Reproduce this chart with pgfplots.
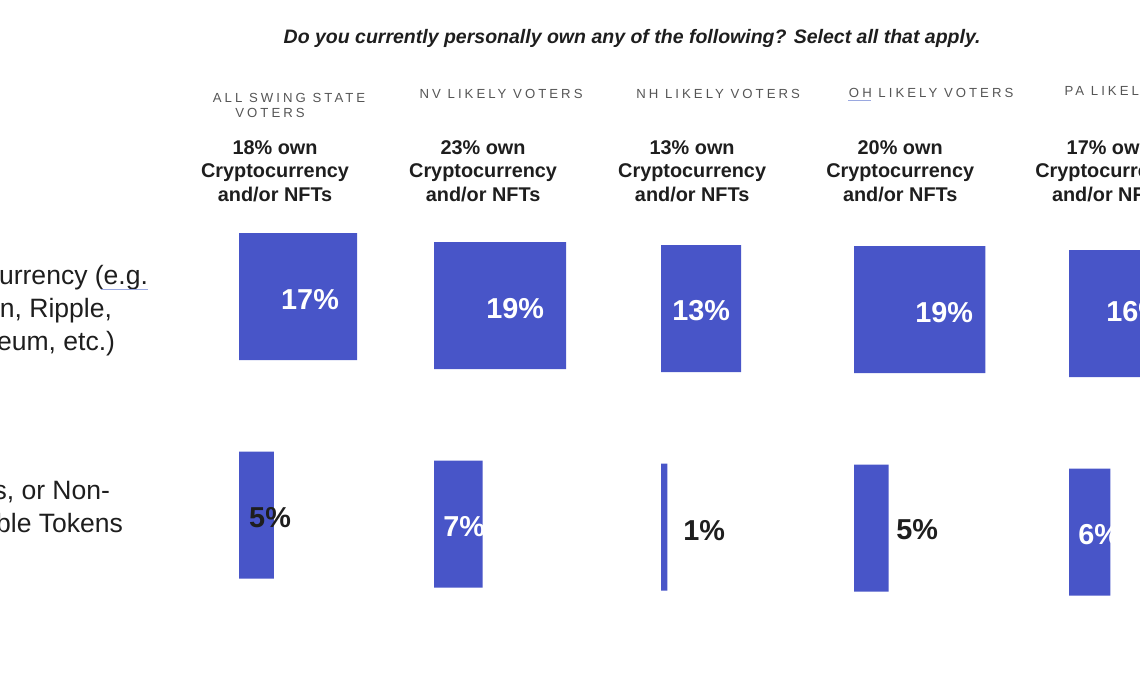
\documentclass[border=0pt]{standalone}
\usepackage{pgfplots}
\pgfplotsset{compat=1.18}
\usepackage{fontspec}
\setmainfont{Liberation Sans}
\newfontfamily\capsfont{Liberation Sans}[LetterSpace=23]

\definecolor{barblue}{HTML}{4855C8}
\definecolor{ink}{HTML}{1E1E1E}
\definecolor{capgray}{HTML}{555555}
\definecolor{squiggle}{HTML}{9AA8E0}

% one hidden axis per column, y in pixels (top = 0), x in percent
\pgfplotsset{colax/.style={
    hide axis, xmin=0, xmax=20, ymin=0, ymax=694, y dir=reverse,
    y=0.02cm, anchor=north west, clip=false}}

% #1 left edge px, #2 downward shift px, #3 cm per percent, #4 crypto, #5 NFTs
\newcommand{\statecol}[5]{%
  \begin{axis}[colax, at={(#1*0.02cm,-#2*0.02cm)}, x=#3cm]
    \addplot[xbar, fill=barblue, draw=none, bar width=2.54cm]
      coordinates {(#4,296.5) (#5,515)};
  \end{axis}}

\newcommand{\hdr}{\capsfont\fontsize{7.5}{9}\selectfont\color{capgray}}
\newcommand{\own}{\bfseries\fontsize{11.3}{13.3}\selectfont\color{ink}}
\newcommand{\val}{\bfseries\fontsize{16.4}{18}\selectfont}
\newcommand{\rowlab}{\fontsize{15.1}{18}\selectfont\color{ink}}

\begin{document}
\begin{tikzpicture}
\useasboundingbox (0,0) rectangle (22.8cm,-13.88cm);
\clip (0,0) rectangle (22.8cm,-13.88cm);

% All swing, NV, NH, OH, PA
\statecol{239}{0}{0.139}{17}{5}
\statecol{434}{9}{0.139}{19}{7}
\statecol{661}{12}{0.123}{13}{1}
\statecol{854}{13}{0.138}{19}{5}
\statecol{1069}{17}{0.137}{16}{6}

\begin{scope}[x=0.02cm, y=-0.02cm, inner sep=0pt, outer sep=0pt]
  % title
  \node[anchor=base, color=ink] at (632,43)
    {\bfseries\itshape\fontsize{11.1}{13}\selectfont Do you currently personally own any of the following? Select all that apply.};

  % column headers
  \node[anchor=base] at (289,102) {\hdr ALL SWING STATE};
  \node[anchor=base] at (270,117) {\hdr VOTERS};
  \node[anchor=base] at (501,98) {\hdr NV LIKELY VOTERS};
  \node[anchor=base] at (718,98) {\hdr NH LIKELY VOTERS};
  \node[anchor=base] at (931,97) {\hdr OH LIKELY VOTERS};
  \node[anchor=base] at (1145,95) {\hdr PA LIKELY VOTERS};
  \draw[squiggle, line width=0.6pt] (848,100.5) -- (871,100.5);

  \foreach \cx/\pct in {275/18, 483/23, 692/13, 900/20, 1109/17} {
    \node[anchor=base] at (\cx,154) {\own \pct\% own};
    \node[anchor=base] at (\cx,177) {\own Cryptocurrency};
    \node[anchor=base] at (\cx,201) {\own and/or NFTs};
  }

  % row labels, cut at the left edge
  \node[anchor=base east] at (148,284) {\rowlab Cryptocurrency (e.g.};
  \node[anchor=base east] at (112,317) {\rowlab Bitcoin, Ripple,};
  \node[anchor=base east] at (115,350) {\rowlab Ethereum, etc.)};
  \draw[squiggle, line width=0.6pt] (101,289) -- (148,289);
  \node[anchor=base east] at (110,499) {\rowlab NFTs, or Non-};
  \node[anchor=base east] at (123,532) {\rowlab Fungible Tokens};

  % value labels
  \node[anchor=base, white] at (310,309) {\val 17\%};
  \node[anchor=base, white] at (515,318) {\val 19\%};
  \node[anchor=base, white] at (701,320) {\val 13\%};
  \node[anchor=base, white] at (944,322) {\val 19\%};
  \node[anchor=base, white] at (1135,321) {\val 16\%};
  \node[anchor=base, ink] at (270,527) {\val 5\%};
  \node[anchor=base, white] at (464,536) {\val 7\%};
  \node[anchor=base, ink] at (704,540) {\val 1\%};
  \node[anchor=base, ink] at (917,539) {\val 5\%};
  \node[anchor=base, white] at (1099,544) {\val 6\%};
\end{scope}
\end{tikzpicture}
\end{document}
